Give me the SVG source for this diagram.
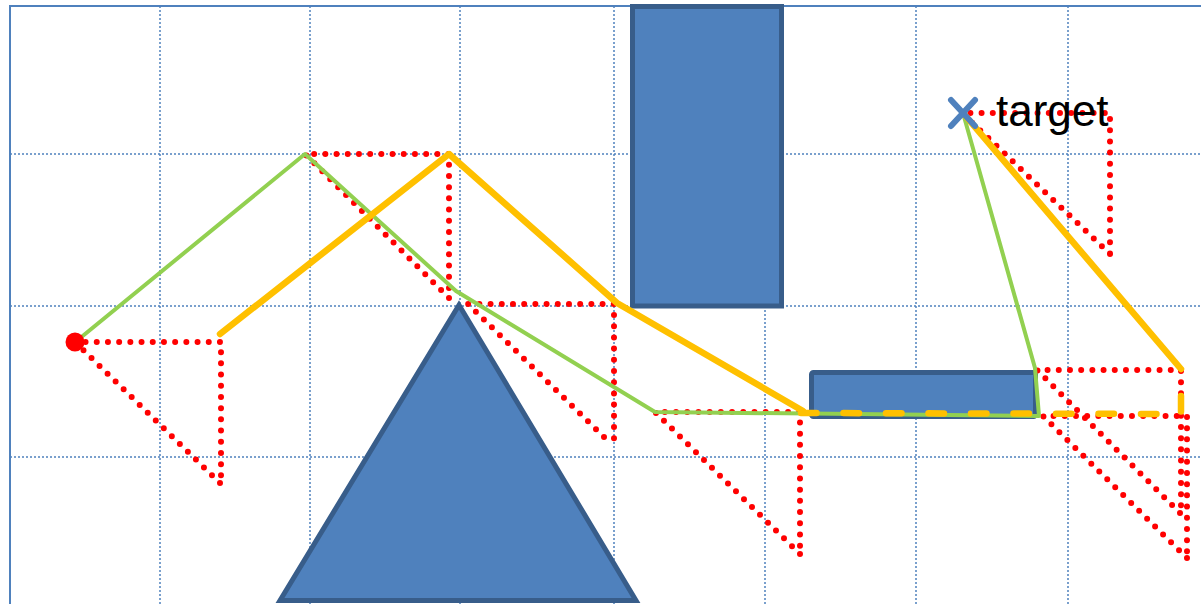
<svg xmlns="http://www.w3.org/2000/svg" width="1201" height="604" viewBox="0 0 1201 604">
<style>
.grid{stroke:#4F81BD;stroke-width:1.5;stroke-dasharray:2 2;fill:none}
.frame{stroke:#4F81BD;stroke-width:2;fill:none}
.shape{fill:#4F81BD;stroke:#385D8A;stroke-width:5}
.red{stroke:#FF0000;stroke-width:6;stroke-linecap:round;stroke-linejoin:round;stroke-dasharray:0 11.2;fill:none}
.green{stroke:#92D050;stroke-width:4;fill:none;stroke-linejoin:round;stroke-linecap:round}
.yellow{stroke:#FFC000;stroke-width:6.5;fill:none;stroke-linejoin:round;stroke-linecap:round}
.ydash{stroke:#FFC000;stroke-width:6.5;fill:none;stroke-linecap:round;stroke-linejoin:round;stroke-dasharray:15.5 27}
.label{font-family:"Liberation Sans",Arial,sans-serif;font-size:44px;fill:#000}
</style>
<rect width="1201" height="604" fill="#fff"/>
<g id="grid">
<path class="grid" d="M160,6V604M310,6V604M460,6V604M614,6V604M765,6V604M916,6V604M1068,6V604M10,154H1201M10,306H1201M10,457H1201"/>
<path class="frame" d="M1201,6H10V604"/>
</g>
<g id="tall-rect"><rect class="shape" x="632.5" y="6.5" width="149" height="299.5"/></g>
<g id="small-rect"><rect class="shape" x="811.5" y="372.5" width="224" height="44" rx="2"/></g>
<g id="triangle"><polygon class="shape" points="459,305 280,600.5 636,600.5"/></g>
<g id="connectors">
<path class="red" d="M220,483L75,342H221V483"/>
<path class="red" d="M449,298L305,154H449V298"/>
<path class="red" d="M604,437L468,304H614V446"/>
<path class="red" d="M800,554L655,412H800V554"/>
<path class="red" d="M1110,254L962,113H1110V254"/>
<path class="red" d="M1180,513L1037,370H1181V512"/>
<path class="red" d="M1187,558L1043,416H1187V558"/>
<polyline class="green" points="79,339 305,154 456,291 655,412 1039,416 1035,368 963,113"/>
<polyline class="yellow" points="220,334 449,154 617,303 803,411"/>
<path class="ydash" d="M801,413L1181,414V370"/>
<path class="yellow" d="M1181,369L963,113"/>
</g>
<g id="start"><circle cx="75" cy="342" r="9.5" fill="#FF0000"/></g>
<g id="target">
<path d="M951,100L975,126M975,100L951,126" stroke="#4F81BD" stroke-width="6" stroke-linecap="round" fill="none"/>
<text class="label" x="996" y="126">target</text>
</g>
</svg>
